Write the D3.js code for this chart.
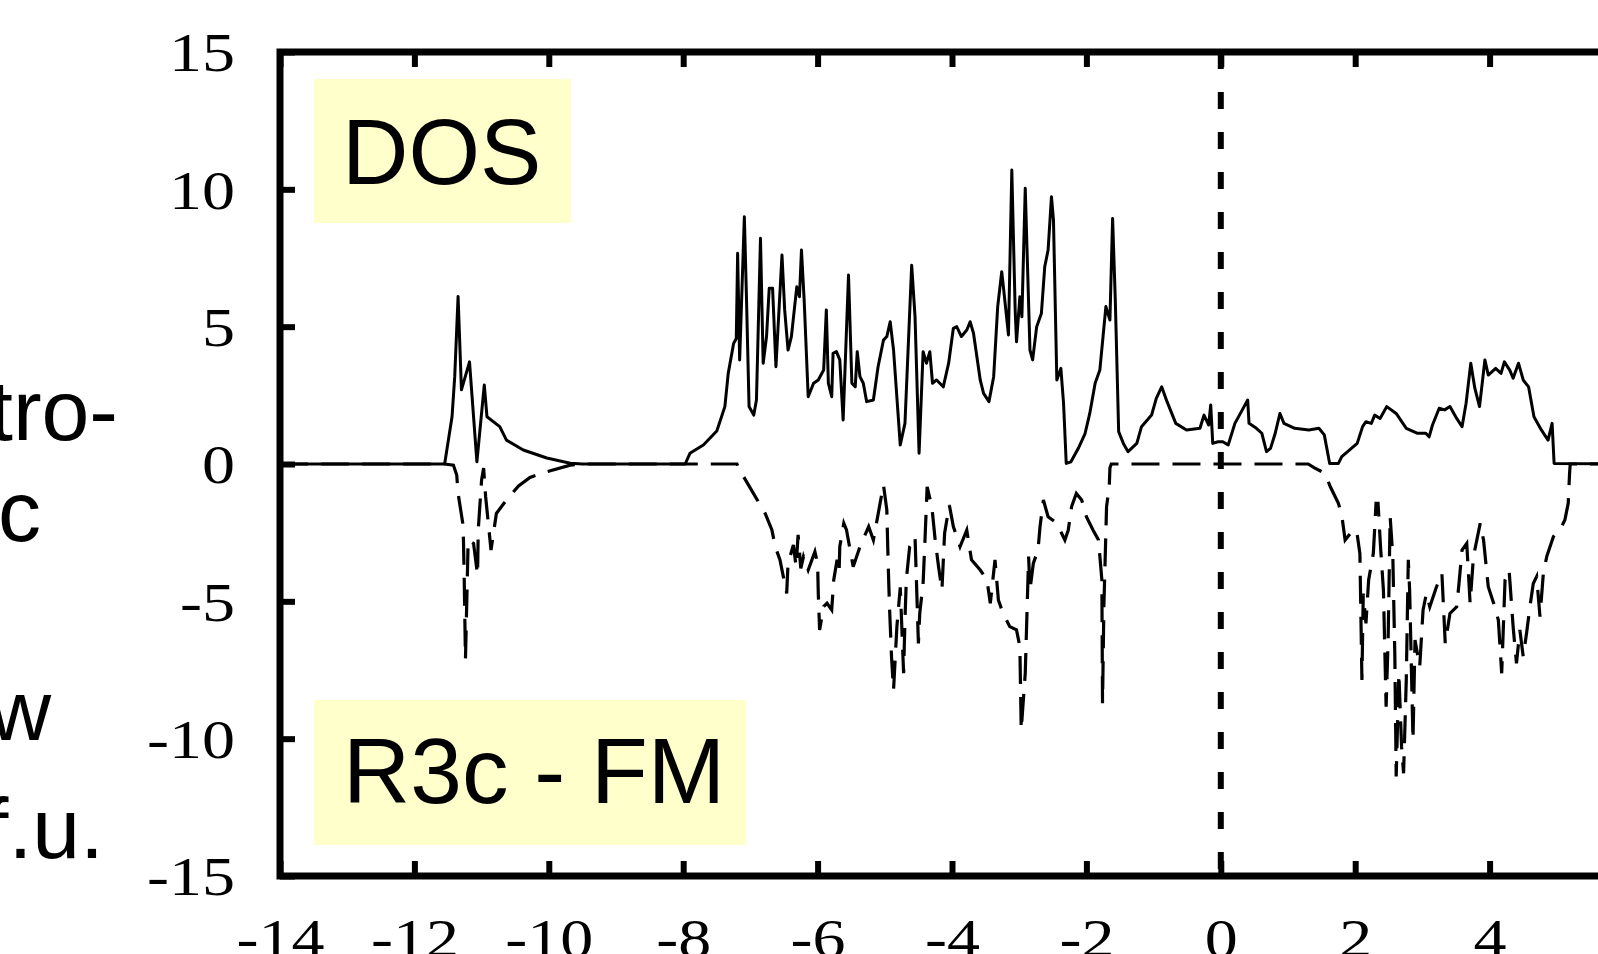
<!DOCTYPE html>
<html lang="en">
<head>
<meta charset="UTF-8">
<title>DOS R3c - FM</title>
<script src="https://d3js.org/d3.v7.min.js"></script>
<style>
    body { margin: 0; background: #fff; overflow: hidden; }
    svg { display: block; }
    .tick text { font-family: "Liberation Serif", "Times New Roman", serif; font-size: 55px; fill: #000; }
    .label { font-family: "Liberation Sans", Arial, sans-serif; fill: #000; }
</style>
</head>
<body>
<svg id="main" width="1598" height="954"></svg>
<script>
    // tick values
    const xTicks = [-14, -12, -10, -8, -6, -4, -2, 0, 2, 4];
    const yTicks = [-15, -10, -5, 0, 5, 10, 15];

    // cut-off slide text on the left
    const sideText = ['tro-', 'c', 'w', 'f.u.'];

    // spin up DOS, [energy eV, states/eV f.u.]
    const spinUp = [
        [-14, 0], [-11.55, 0], [-11.44, 1.72], [-11.40, 3.18], [-11.35, 6.1], [-11.30, 2.7],
        [-11.18, 3.72], [-11.07, 0.08], [-10.96, 2.88], [-10.92, 1.72], [-10.73, 1.36],
        [-10.63, 0.87], [-10.38, 0.51], [-10.03, 0.22], [-9.68, 0.03], [-9.5, 0], [-7.97, 0],
        [-7.90, 0.39], [-7.70, 0.69], [-7.50, 1.2], [-7.38, 2.09], [-7.33, 3.3], [-7.25, 4.39],
        [-7.21, 4.57], [-7.19, 7.67], [-7.16, 3.79], [-7.09, 9.0], [-7.06, 6.21], [-7.02, 2.09],
        [-6.95, 1.78], [-6.91, 2.33], [-6.85, 8.22], [-6.81, 3.67], [-6.76, 4.64], [-6.72, 6.4],
        [-6.67, 6.4], [-6.62, 3.54], [-6.58, 5.36], [-6.53, 7.61], [-6.49, 5.61], [-6.44, 4.15],
        [-6.39, 4.64], [-6.31, 6.45], [-6.27, 6.09], [-6.24, 7.79], [-6.20, 5.97], [-6.14, 2.45],
        [-6.06, 2.94], [-5.99, 3.06], [-5.91, 3.42], [-5.87, 5.61], [-5.84, 2.94], [-5.79, 2.45],
        [-5.77, 4.03], [-5.72, 4.09], [-5.67, 3.79], [-5.62, 1.6], [-5.54, 6.88], [-5.49, 2.94],
        [-5.44, 2.81], [-5.41, 4.09], [-5.37, 3.18], [-5.32, 2.94], [-5.27, 2.27], [-5.17, 2.33],
        [-5.10, 3.54], [-5.02, 4.51], [-4.97, 4.64], [-4.92, 5.18], [-4.87, 4.15], [-4.77, 0.69],
        [-4.70, 1.48], [-4.60, 7.24], [-4.55, 5.36], [-4.49, 0.39], [-4.43, 4.09], [-4.38, 3.67],
        [-4.33, 4.09], [-4.29, 2.94], [-4.23, 3.06], [-4.13, 2.81], [-4.05, 3.67], [-3.98, 4.94],
        [-3.93, 5.0], [-3.86, 4.64], [-3.78, 4.88], [-3.73, 5.18], [-3.68, 4.76], [-3.58, 3.06],
        [-3.53, 2.57], [-3.45, 2.27], [-3.38, 3.18], [-3.32, 5.73], [-3.26, 7.0], [-3.23, 6.33],
        [-3.16, 4.7], [-3.11, 10.7], [-3.06, 5.61], [-3.04, 4.45], [-2.99, 6.09], [-2.96, 5.36],
        [-2.91, 10.04], [-2.86, 5.85], [-2.84, 4.15], [-2.80, 3.79], [-2.74, 5.0], [-2.67, 5.48],
        [-2.62, 7.18], [-2.57, 7.79], [-2.52, 9.73], [-2.49, 8.88], [-2.44, 3.06], [-2.38, 3.48],
        [-2.34, 2.21], [-2.30, 0.02], [-2.23, 0.08], [-2.12, 0.57], [-2.02, 1.11], [-1.95, 1.84],
        [-1.87, 2.94], [-1.80, 3.42], [-1.71, 5.73], [-1.65, 5.24], [-1.61, 8.94], [-1.57, 5.97],
        [-1.52, 1.18], [-1.45, 0.75], [-1.38, 0.45], [-1.25, 0.75], [-1.18, 1.36], [-1.03, 1.78],
        [-0.96, 2.39], [-0.88, 2.81], [-0.80, 2.27], [-0.67, 1.48], [-0.51, 1.24], [-0.31, 1.3],
        [-0.25, 1.78], [-0.18, 1.42], [-0.15, 2.15], [-0.12, 0.75], [-0.04, 0.81], [0.03, 0.81],
        [0.11, 0.69], [0.21, 1.48], [0.32, 1.97], [0.40, 2.33], [0.42, 1.48], [0.53, 1.3],
        [0.61, 1.12], [0.68, 0.45], [0.74, 0.57], [0.81, 1.12], [0.88, 1.84], [0.94, 1.48],
        [1.10, 1.3], [1.31, 1.24], [1.46, 1.3], [1.54, 1.06], [1.62, 0.02], [1.75, 0.02],
        [1.80, 0.27], [2.03, 0.75], [2.11, 1.36], [2.16, 1.54], [2.24, 1.48], [2.29, 1.78],
        [2.37, 1.66], [2.47, 2.09], [2.61, 1.84], [2.76, 1.3], [2.92, 1.12], [3.05, 1.12],
        [3.10, 0.99], [3.15, 1.42], [3.25, 2.03], [3.33, 1.97], [3.41, 2.09], [3.51, 1.66],
        [3.59, 1.36], [3.65, 2.21], [3.72, 3.67], [3.78, 2.76], [3.85, 2.09], [3.93, 3.79],
        [3.98, 3.24], [4.09, 3.48], [4.17, 3.3], [4.22, 3.72], [4.30, 3.42], [4.35, 3.12],
        [4.43, 3.67], [4.50, 3.06], [4.58, 2.81], [4.66, 1.72], [4.77, 1.24], [4.87, 0.87],
        [4.93, 1.48], [4.96, 0.02], [6, 0]
    ];

    // spin down DOS (plotted negative)
    const spinDown = [
        [-14, 0], [-11.55, 0], [-11.42, -0.04], [-11.37, -0.4], [-11.35, -1.07], [-11.28, -2.16],
        [-11.27, -2.77], [-11.26, -3.98], [-11.24, -7.1], [-11.20, -2.77], [-11.12, -2.89],
        [-11.06, -4.04], [-11.05, -2.4], [-11.00, -0.58], [-10.97, -0.15], [-10.94, -1.19],
        [-10.86, -3.13], [-10.78, -1.8], [-10.63, -1.31], [-10.45, -0.8], [-10.28, -0.49],
        [-10.03, -0.28], [-9.68, -0.04], [-9.5, 0], [-7.20, 0], [-7.13, -0.34], [-6.78, -1.8],
        [-6.68, -2.4], [-6.63, -3.01], [-6.56, -3.49], [-6.51, -4.1], [-6.46, -4.71], [-6.44, -3.62],
        [-6.36, -2.95], [-6.32, -3.74], [-6.29, -2.58], [-6.25, -3.8], [-6.21, -3.37], [-6.14, -3.86],
        [-6.04, -3.19], [-6.00, -3.62], [-5.99, -4.71], [-5.97, -6.04], [-5.91, -5.19], [-5.86, -5.07],
        [-5.79, -5.31], [-5.76, -4.22], [-5.71, -3.49], [-5.68, -3.98], [-5.67, -3.01], [-5.61, -2.16],
        [-5.57, -2.4], [-5.47, -3.74], [-5.37, -3.01], [-5.24, -2.28], [-5.17, -2.77], [-5.07, -1.43],
        [-5.02, -0.76], [-4.97, -1.67], [-4.95, -3.62], [-4.93, -5.2], [-4.90, -7.02], [-4.87, -8.23],
        [-4.82, -5.92], [-4.77, -4.49], [-4.72, -7.62], [-4.70, -5.68], [-4.68, -4.22], [-4.63, -3.01],
        [-4.55, -2.65], [-4.50, -6.53], [-4.48, -5.44], [-4.43, -4.34], [-4.40, -2.65], [-4.37, -0.83],
        [-4.30, -1.55], [-4.25, -2.77], [-4.20, -3.74], [-4.15, -4.59], [-4.11, -2.52], [-4.04, -1.49],
        [-3.98, -2.28], [-3.88, -3.01], [-3.78, -2.41], [-3.71, -3.49], [-3.58, -3.86], [-3.48, -4.22],
        [-3.43, -5.07], [-3.36, -3.49], [-3.31, -4.95], [-3.24, -5.44], [-3.14, -5.92], [-3.04, -6.04],
        [-2.99, -6.65], [-2.97, -9.68], [-2.91, -7.62], [-2.86, -3.37], [-2.84, -4.59], [-2.79, -3.62],
        [-2.72, -3.13], [-2.69, -2.28], [-2.64, -1.31], [-2.57, -1.92], [-2.44, -2.16], [-2.32, -2.77],
        [-2.27, -2.41], [-2.22, -1.55], [-2.15, -1.07], [-2.07, -1.31], [-2.00, -1.92], [-1.90, -2.41],
        [-1.82, -2.77], [-1.77, -4.22], [-1.76, -8.71], [-1.74, -5.2], [-1.70, -1.55], [-1.66, -0.83],
        [-1.65, -0.15], [-1.63, 0], [1.30, 0], [1.40, -0.15], [1.55, -0.34], [1.63, -0.83],
        [1.75, -1.43], [1.80, -1.86], [1.85, -2.77], [1.93, -2.52], [2.02, -2.4], [2.07, -3.26],
        [2.10, -7.86], [2.12, -4.72], [2.16, -5.8], [2.20, -4.22], [2.27, -3.25], [2.31, -1.43],
        [2.34, -1.43], [2.38, -3.13], [2.42, -4.59], [2.46, -8.84], [2.49, -6.41], [2.52, -1.92],
        [2.56, -3.37], [2.59, -7.01], [2.61, -11.38], [2.65, -7.62], [2.69, -10.29], [2.72, -11.26],
        [2.76, -7.86], [2.79, -3.49], [2.81, -4.59], [2.86, -10.05], [2.89, -6.41], [2.96, -7.38],
        [3.01, -5.31], [3.06, -4.71], [3.11, -5.2], [3.21, -4.47], [3.29, -3.98], [3.34, -6.53],
        [3.41, -5.44], [3.51, -5.2], [3.54, -4.47], [3.59, -3.13], [3.66, -2.89], [3.71, -5.07],
        [3.76, -3.37], [3.86, -2.16], [3.91, -2.77], [3.98, -4.47], [4.06, -5.07], [4.13, -5.68],
        [4.18, -7.62], [4.23, -4.22], [4.29, -3.86], [4.35, -5.92], [4.40, -7.26], [4.45, -6.04],
        [4.50, -7.01], [4.55, -6.16], [4.60, -5.2], [4.65, -4.35], [4.70, -4.1], [4.75, -5.56],
        [4.80, -3.98], [4.85, -3.37], [4.95, -2.64], [5.07, -2.28], [5.12, -2.04], [5.17, -1.43],
        [5.19, -0.34], [5.20, 0], [6, 0]
    ];

    let svg = d3.select('svg#main');

    // plot runs past the right edge of the slide, like the original crop
    let x = d3.scaleLinear().domain([-14, 6]).range([280, 1624]);
    let y = d3.scaleLinear().domain([-15, 15]).range([876, 52]);

    // plain hyphen for negatives, as in the original figure
    let fmt = d => String(d);

    // yellow label boxes
    svg.append('rect').attr('x', 314).attr('y', 79).attr('width', 257).attr('height', 144).attr('fill', '#ffffcc');
    svg.append('text').attr('class', 'label').attr('x', 342).attr('y', 184)
        .style('font-size', '92px').text('DOS');

    svg.append('rect').attr('x', 314).attr('y', 700).attr('width', 432).attr('height', 145).attr('fill', '#ffffcc');
    svg.append('text').attr('class', 'label').attr('x', 343).attr('y', 803)
        .style('font-size', '93px').text('R3c - FM');

    // slide text cut at the left border
    let sidePos = [[118, 440], [41, 541], [51, 740], [104, 858]];
    svg.selectAll('.side').data(sideText).enter().append('text')
        .attr('class', 'label side')
        .attr('text-anchor', 'end')
        .attr('x', (d, i) => sidePos[i][0])
        .attr('y', (d, i) => sidePos[i][1])
        .style('font-size', '86px')
        .text(d => d);

    let line = d3.line().x(d => x(d[0])).y(d => y(d[1]));

    svg.append('path').datum(spinUp)
        .attr('d', line)
        .attr('fill', 'none').attr('stroke', '#000')
        .attr('stroke-width', 3).attr('stroke-linejoin', 'round');

    svg.append('path').datum(spinDown)
        .attr('d', line)
        .attr('fill', 'none').attr('stroke', '#000')
        .attr('stroke-width', 3.2)
        .attr('stroke-dasharray', '28,13');

    // Fermi level
    svg.append('line')
        .attr('x1', x(0)).attr('x2', x(0))
        .attr('y1', y(15)).attr('y2', y(-15))
        .attr('stroke', '#000').attr('stroke-width', 6)
        .attr('stroke-dasharray', '17,23');

    // frame
    svg.append('rect')
        .attr('x', x(-14)).attr('y', y(15))
        .attr('width', x(6) - x(-14)).attr('height', y(-15) - y(15))
        .attr('fill', 'none').attr('stroke', '#000').attr('stroke-width', 7);

    // axes, ticks pointing inward
    let bottomAxis = svg.append('g')
        .attr('transform', 'translate(0,' + y(-15) + ')')
        .call(d3.axisBottom(x).tickValues(xTicks).tickSize(-15).tickFormat(fmt));
    bottomAxis.select('.domain').remove();
    bottomAxis.selectAll('line').attr('stroke-width', 6);
    bottomAxis.selectAll('text')
        .attr('y', null).attr('dy', null)
        .attr('transform', 'translate(0,81) scale(1.2,1)');

    let topAxis = svg.append('g')
        .attr('transform', 'translate(0,' + y(15) + ')')
        .call(d3.axisTop(x).tickValues(xTicks).tickSize(-15).tickFormat(''));
    topAxis.select('.domain').remove();
    topAxis.selectAll('line').attr('stroke-width', 6);

    let leftAxis = svg.append('g')
        .attr('transform', 'translate(' + x(-14) + ',0)')
        .call(d3.axisLeft(y).tickValues(yTicks).tickSize(-15).tickFormat(fmt));
    leftAxis.select('.domain').remove();
    leftAxis.selectAll('line').attr('stroke-width', 6);
    leftAxis.selectAll('text')
        .attr('x', null).attr('dy', '0.34em')
        .attr('transform', 'translate(-45,0) scale(1.2,1)');
</script>
</body>
</html>
